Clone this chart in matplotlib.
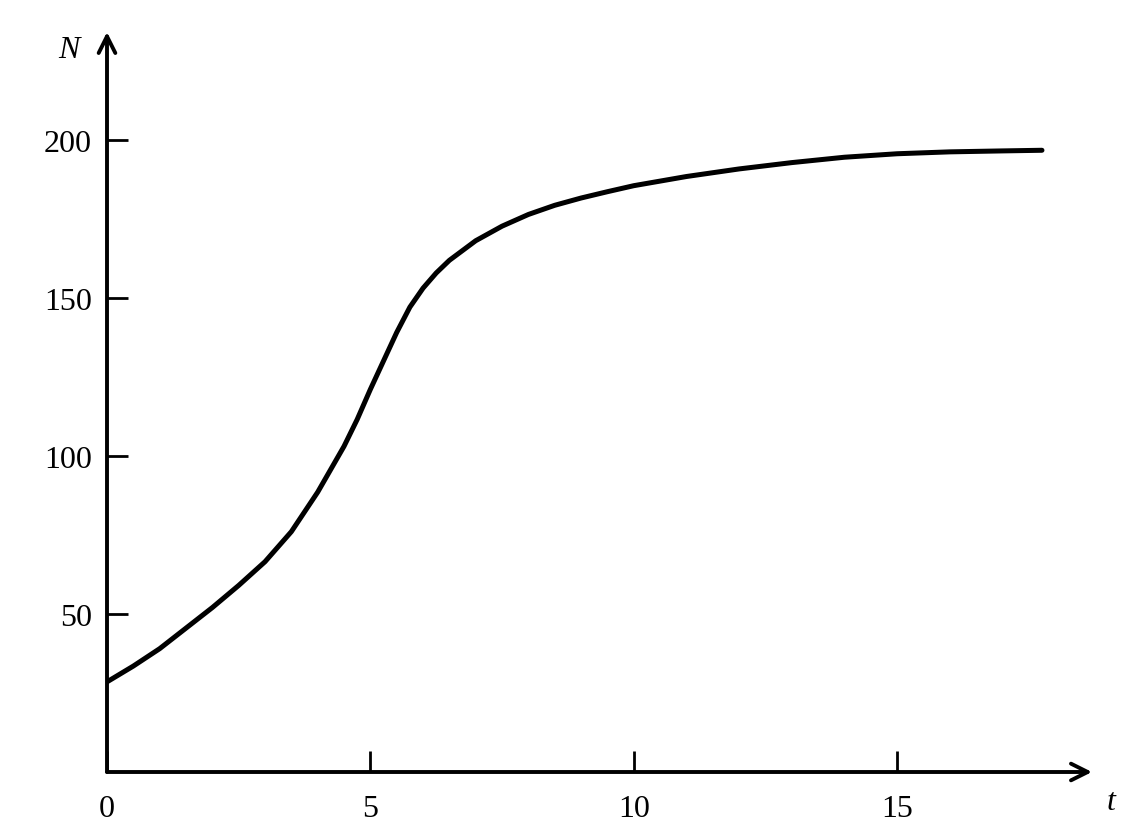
import matplotlib
matplotlib.use("Agg")
import matplotlib.pyplot as plt

# Data
t_values = [0, 0.5, 1.0, 1.5, 2.0, 2.5, 3.0, 3.5, 4.0, 4.5, 4.75, 5.0, 5.25,
            5.5, 5.75, 6.0, 6.25, 6.5, 7.0, 7.5, 8.0, 8.5, 9.0, 9.5, 10.0,
            11.0, 12.0, 13.0, 14.0, 15.0, 16.0, 17.0, 17.75]
N_values = [28.5, 33.5, 39.0, 45.5, 52.0, 59.0, 66.5, 76.0, 88.5, 103.0, 111.5,
            121.0, 130.0, 139.0, 147.0, 153.0, 157.8, 161.8, 168.0, 172.6,
            176.3, 179.2, 181.5, 183.5, 185.4, 188.3, 190.7, 192.7, 194.4,
            195.5, 196.1, 196.4, 196.6]
x_ticks = [0, 5, 10, 15]
y_ticks = [50, 100, 150, 200]
x_label = "t"
y_label = "N"

plt.rcParams['font.family'] = ['Liberation Serif', 'DejaVu Serif']

fig = plt.figure(figsize=(11.31, 8.37), dpi=100)
ax = fig.add_axes([107 / 1131, 64 / 837, 985 / 1131, 740 / 837])
ax.set_xlim(0, 18.7)
ax.set_ylim(0, 234)

ax.plot(t_values, N_values, color='black', lw=3.6, solid_capstyle='round',
        solid_joinstyle='round')

for s in ['top', 'right', 'left', 'bottom']:
    ax.spines[s].set_visible(False)

# Axes with arrows
ax.annotate('', xy=(1.0, 0), xytext=(0, 0), xycoords='axes fraction',
            arrowprops=dict(arrowstyle='->', lw=2.8, color='black',
                            mutation_scale=30, shrinkA=0, shrinkB=0))
ax.annotate('', xy=(0, 1.0), xytext=(0, 0), xycoords='axes fraction',
            arrowprops=dict(arrowstyle='->', lw=2.8, color='black',
                            mutation_scale=30, shrinkA=0, shrinkB=0))

ax.set_xticks(x_ticks)
ax.set_yticks(y_ticks)
ax.set_xticklabels([str(v) for v in x_ticks])
ax.set_yticklabels([str(v) for v in y_ticks])
ax.tick_params(axis='x', direction='in', length=15, width=2.0, pad=16,
               labelsize=23)
ax.tick_params(axis='y', direction='in', length=15, width=2.0, pad=11,
               labelsize=23)

ax.text(-0.028, 0.977, y_label, transform=ax.transAxes, fontsize=23,
        style='italic', ha='right', va='center')
ax.text(1.015, -0.04, x_label, transform=ax.transAxes, fontsize=23,
        style='italic', ha='left', va='center')

fig.savefig('out.png', dpi=100, facecolor='white')
